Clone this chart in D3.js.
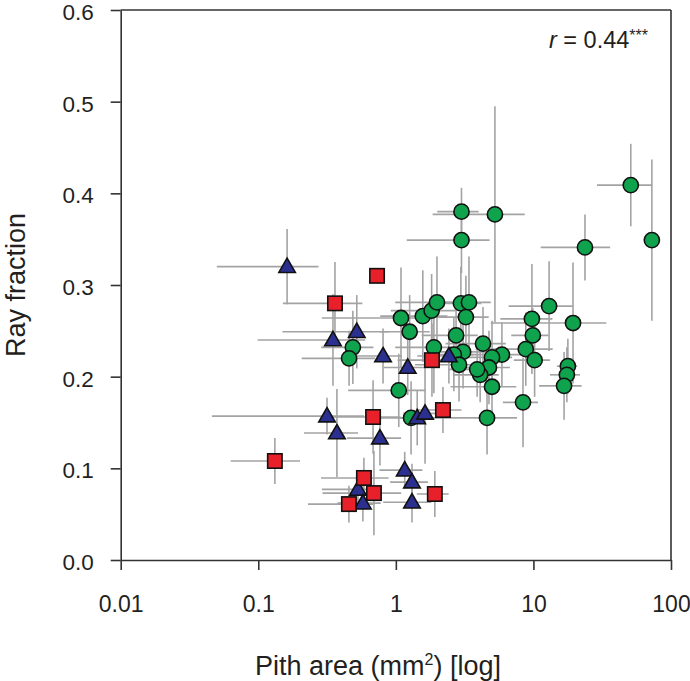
<!DOCTYPE html>
<html>
<head>
<meta charset="utf-8">
<script src="https://cdn.jsdelivr.net/npm/d3@7"></script>
<style>
  html, body { margin: 0; padding: 0; background: #fff; }
  svg { display: block; font-family: "Liberation Sans", Arial, sans-serif; }
</style>
</head>
<body>
<svg id="chart" width="690" height="681"></svg>
<script>
// ---- data ----
const xTicks = [0.01, 0.1, 1, 10, 100];
const xTickLabels = ["0.01", "0.1", "1", "10", "100"];
const yTicks = [0.0, 0.1, 0.2, 0.3, 0.4, 0.5, 0.6];
const yTickLabels = ["0.0", "0.1", "0.2", "0.3", "0.4", "0.5", "0.6"];

// green circles
const greenPith = [3.0, 5.25, 3.0, 51, 72.6, 23.7, 13.0, 9.75, 19.4, 9.9, 8.8, 10.2, 17.8, 17.5, 16.7, 8.4, 4.6, 4.3, 5.9, 5.0, 4.75, 4.1, 5.0,
  1.09, 1.26, 1.57, 1.82, 1.99, 2.97, 3.4, 3.23, 2.74, 1.89, 3.08, 2.64, 2.88, 3.9, 1.05, 1.29, 0.487, 0.457];
const greenRay = [0.380, 0.377, 0.349, 0.409, 0.349, 0.341, 0.277, 0.263, 0.2585, 0.245, 0.230, 0.218, 0.2115, 0.202, 0.190, 0.172, 0.155, 0.236, 0.224, 0.221, 0.210, 0.202, 0.189,
  0.264, 0.249, 0.266, 0.272, 0.281, 0.280, 0.281, 0.265, 0.245, 0.232, 0.227, 0.224, 0.213, 0.208, 0.185, 0.155, 0.232, 0.220];
const greenPithErr = [1.0, 3.4, 1.8, 22, 5, 12.4, 6.4, 4, 14.5, 3, 5, 3, 3, 4.3, 5.7, 2.4, 3.0, 2, 2.5, 2, 2, 1.5, 2.5,
  0.8, 0.5, 0.8, 0.9, 1.0, 1.2, 1.5, 1.5, 1.2, 0.9, 1.4, 1.0, 1.5, 1.5, 0.6, 0.6, 0.2, 0.25];
const greenRayErr = [0.026, 0.118, 0.036, 0.045, 0.088, 0.036, 0.049, 0.06, 0.066, 0.03, 0.04, 0.04, 0.03, 0.03, 0.037, 0.049, 0.04, 0.04, 0.035, 0.04, 0.04, 0.03, 0.04,
  0.055, 0.04, 0.05, 0.04, 0.05, 0.04, 0.05, 0.045, 0.04, 0.05, 0.04, 0.04, 0.04, 0.03, 0.04, 0.04, 0.04, 0.03];

// blue triangles
const bluePith = [0.162, 0.349, 0.52, 0.807, 1.22, 2.43, 0.316, 0.373, 0.766, 1.16, 1.31, 1.31, 0.53, 0.576, 1.43, 1.63];
const blueRay = [0.320, 0.240, 0.249, 0.2225, 0.210, 0.2225, 0.157, 0.1385, 0.133, 0.098, 0.085, 0.063, 0.077, 0.062, 0.155, 0.160];
const bluePithErr = [0.112, 0.25, 0.37, 0.3, 0.4, 1.0, 0.27, 0.158, 0.325, 0.4, 0.4, 0.5, 0.24, 0.2, 0.4, 0.5];
const blueRayErr = [0.041, 0.05, 0.04, 0.03, 0.03, 0.03, 0.02, 0.048, 0.03, 0.02, 0.02, 0.022, 0.02, 0.02, 0.03, 0.055];

// red squares
const redPith = [0.73, 0.361, 1.83, 0.683, 2.2, 0.132, 0.586, 0.693, 0.456, 1.92];
const redRay = [0.310, 0.280, 0.218, 0.156, 0.1636, 0.108, 0.0895, 0.073, 0.061, 0.072];
const redPithErr = [0, 0.21, 0.8, 0.4, 0.8, 0.069, 0.3, 0.4, 0.226, 0.5];
const redRayErr = [0, 0.045, 0.04, 0.04, 0.025, 0.025, 0.022, 0.046, 0.02, 0.025];

const corrLabel = "0.44";

// ---- drawing ----
const svg = d3.select("#chart");
const L = 120.7, R = 671, T = 10, B = 560;
const x = d3.scaleLog().domain([0.01, 100]).range([L, R]);
const y = d3.scaleLinear().domain([0, 0.6]).range([B, T]);

function build(px, py, ex, ey) {
  return px.map((v, i) => ({ x: v, y: py[i], ex: ex[i], ey: ey[i] }));
}
const groups = [
  { data: build(greenPith, greenRay, greenPithErr, greenRayErr), type: "circle", fill: "#0fa34e" },
  { data: build(bluePith, blueRay, bluePithErr, blueRayErr), type: "triangle", fill: "#2b2f8f" },
  { data: build(redPith, redRay, redPithErr, redRayErr), type: "square", fill: "#e8202a" }
];

const errG = svg.append("g").attr("stroke", "#a3a3a3").attr("stroke-width", 1.6);
groups.forEach(g => {
  g.data.forEach(d => {
    if (d.ex > 0) {
      const lo = Math.max(d.x - d.ex, 0.01);
      errG.append("line").attr("x1", x(lo)).attr("x2", x(d.x + d.ex))
        .attr("y1", y(d.y)).attr("y2", y(d.y));
    }
    if (d.ey > 0) {
      errG.append("line").attr("x1", x(d.x)).attr("x2", x(d.x))
        .attr("y1", y(d.y - d.ey)).attr("y2", y(d.y + d.ey));
    }
  });
});

const markG = svg.append("g").attr("stroke", "#111").attr("stroke-width", 1.6);
const tri = d3.symbol().type(d3.symbolTriangle).size(118);
groups.forEach(g => {
  g.data.forEach(d => {
    const cx = x(d.x), cy = y(d.y);
    if (g.type === "circle") {
      markG.append("circle").attr("cx", cx).attr("cy", cy).attr("r", 7.6).attr("fill", g.fill);
    } else if (g.type === "square") {
      markG.append("rect").attr("x", cx - 7.2).attr("y", cy - 7.2).attr("width", 14.4).attr("height", 14.4).attr("fill", g.fill);
    } else {
      markG.append("path").attr("d", tri()).attr("transform", `translate(${cx},${cy + 1})`).attr("fill", g.fill);
    }
  });
});

// axes
const axisColor = "#333";
const xAxis = svg.append("g").attr("transform", `translate(0,${B})`)
  .call(d3.axisBottom(x).tickValues(xTicks).tickFormat((d, i) => xTickLabels[i]).tickSize(10).tickSizeOuter(0).tickPadding(42));
const yAxis = svg.append("g").attr("transform", `translate(${L},0)`)
  .call(d3.axisLeft(y).tickValues(yTicks).tickFormat((d, i) => yTickLabels[i]).tickSize(10).tickSizeOuter(0).tickPadding(17));
[xAxis, yAxis].forEach(a => {
  a.select(".domain").attr("stroke", axisColor).attr("stroke-width", 1.6);
  a.selectAll(".tick line").attr("stroke", axisColor).attr("stroke-width", 1.6);
  a.selectAll(".tick text").attr("fill", "#231f20").attr("font-size", 23)
    .attr("font-family", "'Liberation Sans', Arial, sans-serif");
});
xAxis.selectAll(".tick text").attr("dy", "0");
yAxis.selectAll(".tick text").attr("font-size", 22.5).attr("dy", "0.42em");

// frame top and right
svg.append("line").attr("x1", L).attr("x2", R).attr("y1", T).attr("y2", T).attr("stroke", axisColor).attr("stroke-width", 1.6);
svg.append("line").attr("x1", R).attr("x2", R).attr("y1", T).attr("y2", B).attr("stroke", axisColor).attr("stroke-width", 1.6);

// axis titles
const xt = svg.append("text").attr("x", 378).attr("y", 675).attr("text-anchor", "middle")
  .attr("font-size", 27).attr("fill", "#231f20");
xt.append("tspan").text("Pith area (mm");
xt.append("tspan").attr("font-size", 16).attr("dy", -10).text("2");
xt.append("tspan").attr("dy", 10).text(") [log]");

svg.append("text").attr("transform", `translate(25,${(T + B) / 2}) rotate(-90)`)
  .attr("text-anchor", "middle").attr("font-size", 27).attr("fill", "#231f20").text("Ray fraction");

// correlation label
const rt = svg.append("text").attr("x", 648).attr("y", 48).attr("text-anchor", "end")
  .attr("font-size", 23.5).attr("fill", "#231f20");
rt.append("tspan").attr("font-style", "italic").text("r");
rt.append("tspan").text(" = " + corrLabel);
rt.append("tspan").attr("font-size", 16).attr("dy", -7).text("***");
</script>
</body>
</html>
